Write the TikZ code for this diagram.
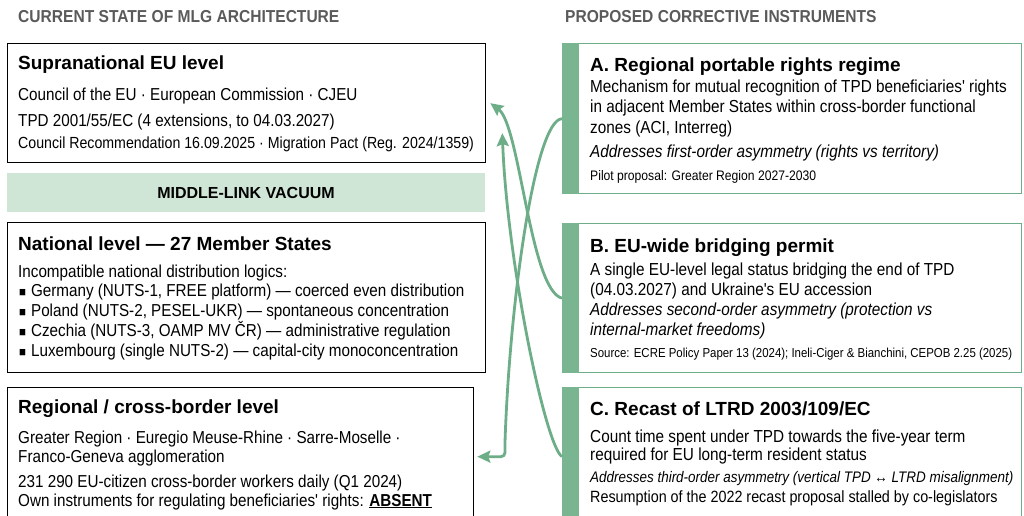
\documentclass[tikz,border=0pt]{standalone}
\usepackage{fontspec}
\setmainfont{Liberation Sans}
\newfontfamily\narrowfont{Liberation Sans}[FakeStretch=0.88]
\newfontfamily\capsfont{Liberation Sans}[FakeStretch=0.9]
\usepackage{tikz}
\usetikzlibrary{arrows.meta, positioning}
\definecolor{mlggreen}{HTML}{6DAE88}
\definecolor{mlgbar}{HTML}{79B591}
\definecolor{mlglight}{HTML}{CFE6D6}
\definecolor{mlggray}{HTML}{5A5A5A}

\begin{document}
\begin{tikzpicture}[x=1pt, y=-1pt,
  lvl/.style={draw=black, line width=1.3pt, anchor=north west, inner sep=0, fill=white},
  ins/.style={draw=mlggreen, line width=1.4pt, anchor=north west, inner sep=0, fill=white},
  coltitle/.style={anchor=base west, inner sep=0, text=mlggray, font=\capsfont\bfseries\fontsize{17.3}{20}\selectfont},
  head/.style={anchor=base west, inner sep=0, font=\bfseries\fontsize{19}{22}\selectfont},
  ltxt/.style={anchor=base west, inner sep=0, font=\narrowfont\fontsize{17.3}{20}\selectfont},
  rtxt/.style={anchor=base west, inner sep=0, font=\narrowfont\fontsize{17.4}{20}\selectfont},
  rnote/.style={anchor=base west, inner sep=0, font=\narrowfont\fontsize{13.8}{16}\selectfont},
  flow/.style={draw=mlggreen, line width=2.8pt, -{Stealth[length=13pt, width=12pt, inset=2pt]}}]
\useasboundingbox (0,0) rectangle (1024,516);
\clip (0,0) rectangle (1024,516);

\node[coltitle] (tleft) at (18,23) {CURRENT STATE OF MLG ARCHITECTURE};
\node[coltitle] (tright) at (565,23) {PROPOSED CORRECTIVE INSTRUMENTS};

\node[lvl, minimum width=478pt, minimum height=119pt] (supra) at (7,43) {};
\node[head] (supraH) at (18,70) {Supranational EU level};
\node[ltxt] (supra1) at (18,100) {Council of the EU · European Commission · CJEU};
\node[ltxt] (supra2) at (18,126) {TPD 2001/55/EC (4 extensions, to 04.03.2027)};
\node[ltxt, font=\narrowfont\fontsize{16.1}{18}\selectfont] (supra3) at (18,148) {Council Recommendation 16.09.2025 · Migration Pact (Reg. 2024/1359)};

\node[anchor=north west, fill=mlglight, minimum width=478pt, minimum height=39pt, inner sep=0] (vac) at (7,173) {};
\node[font=\bfseries\fontsize{16}{18}\selectfont, anchor=base, inner sep=0] (vacT) at (246,198) {MIDDLE-LINK VACUUM};

\node[lvl, minimum width=478pt, minimum height=150pt] (natl) at (7,222) {};
\node[head] (natlH) at (18,250) {National level — 27 Member States};
\node[ltxt] (natl0) at (18,277) {Incompatible national distribution logics:};
\node[ltxt] (natl1) at (19,296) {{\fontsize{13}{13}\selectfont■}\hspace{5pt}Germany (NUTS-1, FREE platform) — coerced even distribution};
\node[ltxt] (natl2) at (19,316) {{\fontsize{13}{13}\selectfont■}\hspace{5pt}Poland (NUTS-2, PESEL-UKR) — spontaneous concentration};
\node[ltxt] (natl3) at (19,336) {{\fontsize{13}{13}\selectfont■}\hspace{5pt}Czechia (NUTS-3, OAMP MV ČR) — administrative regulation};
\node[ltxt] (natl4) at (19,356) {{\fontsize{13}{13}\selectfont■}\hspace{5pt}Luxembourg (single NUTS-2) — capital-city monoconcentration};

\node[lvl, minimum width=466pt, minimum height=138pt] (regl) at (7,387) {};
\node[head] (reglH) at (18,413) {Regional / cross-border level};
\node[ltxt] (regl1) at (18,443) {Greater Region · Euregio Meuse-Rhine · Sarre-Moselle ·};
\node[ltxt] (regl2) at (18,462) {Franco-Geneva agglomeration};
\node[ltxt] (regl3) at (18,487) {231 290 EU-citizen cross-border workers daily (Q1 2024)};
\node[ltxt] (regl4) at (18,506) {Own instruments for regulating beneficiaries' rights: \underline{\textbf{ABSENT}}};

\node[ins, minimum width=459pt, minimum height=150pt] (instA) at (562,43) {};
\fill[mlgbar] (instA.north west) rectangle ([xshift=17pt]instA.south west);
\node[head] (instAH) at (590,72) {A. Regional portable rights regime};
\node[rtxt] (instA1) at (590,93) {Mechanism for mutual recognition of TPD beneficiaries' rights};
\node[rtxt] (instA2) at (590,113) {in adjacent Member States within cross-border functional};
\node[rtxt] (instA3) at (590,133) {zones (ACI, Interreg)};
\node[rtxt] (instA4) at (590,157) {\itshape Addresses first-order asymmetry (rights vs territory)};
\node[rnote] (instA5) at (590,180) {Pilot proposal: Greater Region 2027-2030};

\node[ins, minimum width=459pt, minimum height=149pt] (instB) at (562,223) {};
\fill[mlgbar] (instB.north west) rectangle ([xshift=17pt]instB.south west);
\node[head] (instBH) at (590,252) {B. EU-wide bridging permit};
\node[rtxt] (instB1) at (590,275) {A single EU-level legal status bridging the end of TPD};
\node[rtxt] (instB2) at (590,295) {(04.03.2027) and Ukraine's EU accession};
\node[rtxt] (instB3) at (590,315) {\itshape Addresses second-order asymmetry (protection vs};
\node[rtxt] (instB4) at (590,335) {\itshape internal-market freedoms)};
\node[rnote, font=\narrowfont\fontsize{13}{16}\selectfont] (instB5) at (590,357) {Source: ECRE Policy Paper 13 (2024); Ineli-Ciger \& Bianchini, CEPOB 2.25 (2025)};

\node[ins, minimum width=459pt, minimum height=138pt] (instC) at (562,387) {};
\fill[mlgbar] (instC.north west) rectangle ([xshift=17pt]instC.south west);
\node[head] (instCH) at (590,415) {C. Recast of LTRD 2003/109/EC};
\node[rtxt] (instC1) at (590,442) {Count time spent under TPD towards the five-year term};
\node[rtxt] (instC2) at (590,460) {required for EU long-term resident status};
\node[rtxt, font=\narrowfont\itshape\fontsize{15.3}{18}\selectfont] (instC3) at (590,482) {Addresses third-order asymmetry (vertical TPD ↔ LTRD misalignment)};
\node[rtxt, font=\narrowfont\fontsize{16.3}{18}\selectfont] (instC4) at (590,502) {Resumption of the 2022 recast proposal stalled by co-legislators};

\draw[flow, rounded corners=4pt] (instA.west) .. controls (535,120) and (510,300) .. (505,442) |- ([xshift=3pt]regl.east);
\draw[flow] (instB.west) .. controls (530,290) and (520,125) .. ([xshift=4pt]supra.east);
\draw[flow] (instC.west) .. controls (545,445) and (507,260) .. ([shift={(16,30)}]supra.east);
\end{tikzpicture}
\end{document}
